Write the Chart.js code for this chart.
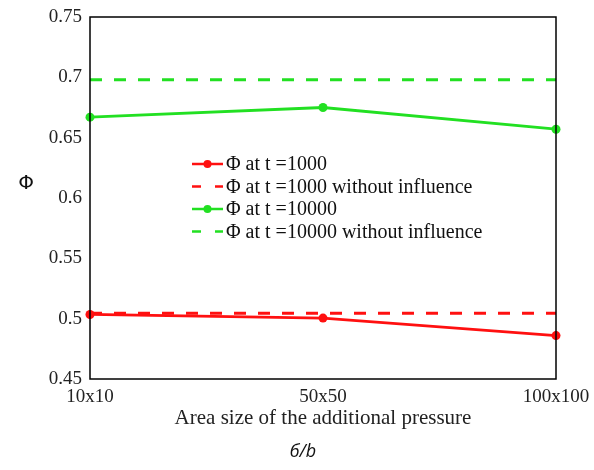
<!DOCTYPE html>
<html>
<head>
<meta charset="utf-8">
<script src="https://cdn.jsdelivr.net/npm/chart.js@4/dist/chart.umd.min.js"></script>
<style>
  html, body { margin: 0; padding: 0; background: #fff; }
  #wrap { width: 594px; height: 470px; position: relative; }
</style>
</head>
<body>
<div id="wrap"><canvas id="c" width="594" height="470"></canvas></div>
<script>
// Area sizes of the additional pressure region
const categories = ['10x10', '50x50', '100x100'];
// Φ values
const phiT1000 = [0.5035, 0.5005, 0.486];
const phiT1000NoInfluence = [0.5045, 0.5045, 0.5045];
const phiT10000 = [0.667, 0.675, 0.657];
const phiT10000NoInfluence = [0.698, 0.698, 0.698];
const seriesLabels = [
  'Φ at t =1000',
  'Φ at t =1000 without influence',
  'Φ at t =10000',
  'Φ at t =10000 without influence'
];
const yTicks = [0.45, 0.5, 0.55, 0.6, 0.65, 0.7, 0.75];

const RED = '#ff1010';
const GREEN = '#22e022';
const SERIF = '"Liberation Serif", "Times New Roman", serif';

// Frame, Φ label, caption and an in-plot legend
const decorations = {
  id: 'decorations',
  afterDraw(chart) {
    const { ctx, chartArea: a } = chart;
    ctx.save();
    ctx.strokeStyle = '#000';
    ctx.lineWidth = 1.5;
    ctx.strokeRect(a.left, a.top, a.right - a.left, a.bottom - a.top);

    ctx.fillStyle = '#111';
    ctx.font = '20px "DejaVu Sans", sans-serif';
    ctx.textAlign = 'center';
    ctx.textBaseline = 'middle';
    ctx.fillText('Φ', 26, 184);

    ctx.font = 'italic 18px "Open Sans", "DejaVu Sans", sans-serif';
    ctx.fillText('б/b', 303, 452);

    // legend
    const x0 = 192, sampleW = 31, rowH = 22.5, y0 = 164;
    ctx.font = '20px ' + SERIF;
    ctx.textAlign = 'left';
    chart.data.datasets.forEach((ds, i) => {
      const y = y0 + i * rowH;
      ctx.strokeStyle = ds.borderColor;
      ctx.lineWidth = 2.5;
      ctx.beginPath();
      if (ds.borderDash && ds.borderDash.length) {
        ctx.moveTo(x0, y); ctx.lineTo(x0 + 9, y);
        ctx.moveTo(x0 + sampleW - 8, y); ctx.lineTo(x0 + sampleW, y);
      } else {
        ctx.moveTo(x0, y); ctx.lineTo(x0 + sampleW, y);
      }
      ctx.stroke();
      if (ds.pointRadius > 0) {
        ctx.fillStyle = ds.borderColor;
        ctx.beginPath();
        ctx.arc(x0 + sampleW / 2, y, 4, 0, Math.PI * 2);
        ctx.fill();
      }
      ctx.fillStyle = '#111';
      ctx.fillText(ds.label, x0 + sampleW + 3, y + 1);
    });
    ctx.restore();
  }
};

new Chart(document.getElementById('c'), {
  type: 'line',
  data: {
    labels: categories,
    datasets: [
      { label: seriesLabels[0], data: phiT1000, borderColor: RED, backgroundColor: RED,
        borderWidth: 2.8, pointRadius: 4.5, pointBackgroundColor: RED, pointBorderWidth: 0 },
      { label: seriesLabels[1], data: phiT1000NoInfluence, borderColor: RED,
        borderWidth: 2.8, borderDash: [12, 12], pointRadius: 0 },
      { label: seriesLabels[2], data: phiT10000, borderColor: GREEN, backgroundColor: GREEN,
        borderWidth: 2.8, pointRadius: 4.5, pointBackgroundColor: GREEN, pointBorderWidth: 0 },
      { label: seriesLabels[3], data: phiT10000NoInfluence, borderColor: GREEN,
        borderWidth: 2.8, borderDash: [12, 12], pointRadius: 0 }
    ]
  },
  options: {
    responsive: false,
    animation: false,
    clip: false,
    layout: { padding: { top: 17, right: 38, left: 0, bottom: 39 } },
    plugins: { legend: { display: false }, tooltip: { enabled: false } },
    scales: {
      x: {
        offset: false,
        grid: { display: false, drawTicks: false },
        border: { display: false },
        ticks: { color: '#222', font: { family: SERIF, size: 19 }, padding: 7, maxRotation: 0 },
        title: { display: true, text: 'Area size of the additional pressure',
                 color: '#222', font: { family: SERIF, size: 21 }, padding: { top: 0, bottom: 0 } },
        afterFit(s) { s.height = 52; s.paddingLeft = 0; s.paddingRight = 0; }
      },
      y: {
        min: 0.45, max: 0.75,
        afterBuildTicks(s) { s.ticks = yTicks.map(v => ({ value: v })); },
        grid: { display: false, drawTicks: false },
        border: { display: false },
        ticks: { color: '#222', font: { family: SERIF, size: 19 }, padding: 8,
                 callback: v => String(v) },
        afterFit(s) { s.width = 90; s.paddingTop = 0; s.paddingBottom = 0; }
      }
    }
  },
  plugins: [decorations]
});
</script>
</body>
</html>
